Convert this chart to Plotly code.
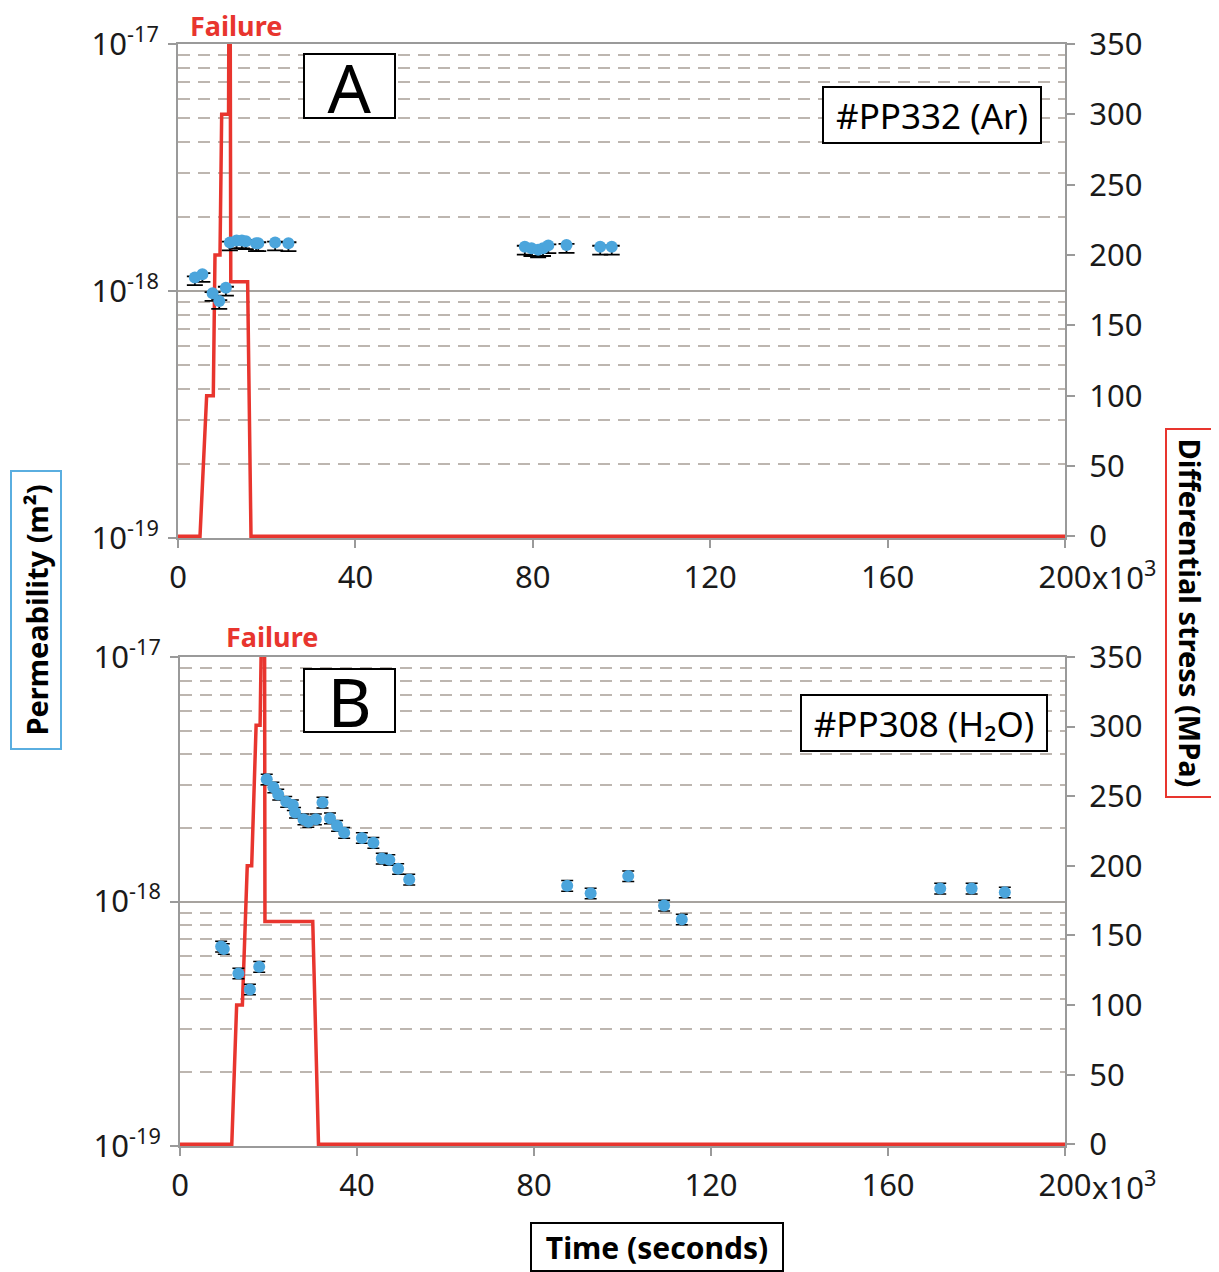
import plotly.graph_objects as go

# ---- data (time in 10^3 s) ----
# panel A, #PP332 (Ar)
time_a_perm = [3.8, 5.5, 7.8, 9.3, 10.8, 11.7, 13.2, 14.4, 15.3, 17.6, 18.1, 21.9, 24.9,
               78.2, 79.7, 81.2, 82.3, 83.5, 87.6, 95.2, 97.8]
perm_a = [1.135e-18, 1.17e-18, 0.98e-18, 0.91e-18, 1.03e-18, 1.57e-18, 1.60e-18, 1.60e-18,
          1.59e-18, 1.56e-18, 1.56e-18, 1.57e-18, 1.56e-18,
          1.51e-18, 1.49e-18, 1.47e-18, 1.49e-18, 1.53e-18, 1.535e-18, 1.51e-18, 1.51e-18]
time_a_stress = [0, 4.96, 6.46, 7.96, 8.34, 9.47, 9.85, 11.4, 11.5, 11.75, 11.9, 15.7, 16.46, 200]
stress_a = [0, 0, 100, 100, 200, 200, 300, 300, 400, 400, 181, 181, 0, 0]

# panel B, #PP308 (H2O)
time_b_perm = [9.3, 9.9, 13.2, 15.8, 17.9, 19.6, 21.1, 22.2, 24.0, 25.5, 26.0, 27.9, 29.0,
               30.7, 32.2, 33.9, 35.5, 37.1, 41.1, 43.7, 45.6, 47.3, 49.3, 51.8,
               87.5, 92.8, 101.3, 109.4, 113.4, 171.8, 178.9, 186.4]
perm_b = [0.655e-18, 0.64e-18, 0.508e-18, 0.437e-18, 0.541e-18, 3.16e-18, 2.93e-18, 2.74e-18,
          2.56e-18, 2.48e-18, 2.31e-18, 2.17e-18, 2.12e-18, 2.17e-18, 2.54e-18, 2.19e-18,
          2.04e-18, 1.91e-18, 1.82e-18, 1.74e-18, 1.50e-18, 1.48e-18, 1.36e-18, 1.23e-18,
          1.16e-18, 1.08e-18, 1.27e-18, 0.963e-18, 0.845e-18, 1.13e-18, 1.13e-18, 1.09e-18]
time_b_stress = [0, 11.7, 12.8, 14.1, 15.2, 16.2, 17.2, 18.1, 18.55, 19.1, 19.2, 30.0, 31.3, 200]
stress_b = [0, 0, 100, 100, 200, 200, 301, 301, 400, 400, 160, 160, 0, 0]

x_ticks = [0, 40, 80, 120, 160, 200]
x_ticktext = ["0", "40", "80", "120", "160", "200"]
perm_ticks = [1e-19, 1e-18, 1e-17]
perm_ticktext = ["10<sup>-19</sup>", "10<sup>-18</sup>", "10<sup>-17</sup>"]
minor_perm = [k * 10.0 ** e for e in (-19, -18) for k in range(2, 10)]

# the page puts the plot 8px in from the top-left corner
OFF = 8
W, H = 1219 - OFF, 1272 - OFF
FONT = "Noto Sans"
RED = "#e8352e"
BLUE = "#4ba5dc"
AXIS = "#9a9a9a"


def px(x):
    return (x - OFF) / W


def py(y):
    return 1 - (y - OFF) / H


fig = go.Figure()

# stress traces on base (right) axes, permeability on overlaid log axes
fig.add_trace(go.Scatter(x=time_a_stress, y=stress_a, mode="lines",
                         line=dict(color=RED, width=3.5), xaxis="x", yaxis="y"))
fig.add_trace(go.Scatter(x=time_a_perm, y=perm_a, mode="markers",
                         marker=dict(color=BLUE, size=12),
                         error_y=dict(type="percent", symmetric=False, value=1, valueminus=7,
                                      color="black", thickness=1.8, width=8),
                         xaxis="x", yaxis="y2"))
fig.add_trace(go.Scatter(x=time_b_stress, y=stress_b, mode="lines",
                         line=dict(color=RED, width=3.5), xaxis="x2", yaxis="y3"))
fig.add_trace(go.Scatter(x=time_b_perm, y=perm_b, mode="markers",
                         marker=dict(color=BLUE, size=12),
                         error_y=dict(type="percent", value=5,
                                      color="black", thickness=1.5, width=6),
                         xaxis="x2", yaxis="y4"))

tick_font = dict(family=FONT, size=31, color="#1a1a1a")

xcommon = dict(range=[0, 200], tickvals=x_ticks, ticktext=x_ticktext, showgrid=False,
               zeroline=False, showline=True, linecolor=AXIS, linewidth=2, mirror=True,
               ticks="outside", ticklen=8, tickcolor=AXIS, tickwidth=2,
               tickfont=tick_font, ticklabelstandoff=3, layer="below traces",
               automargin=False, fixedrange=True)
stress_common = dict(range=[-1.2, 350], dtick=50, tick0=0, side="right", showgrid=False,
                     zeroline=False, showline=True, linecolor=AXIS, linewidth=2,
                     ticks="outside", ticklen=8, tickcolor=AXIS, tickwidth=2,
                     tickfont=tick_font, ticklabelstandoff=8, automargin=False)
perm_common = dict(type="log", range=[-19, -17], side="left", tickvals=perm_ticks,
                   ticktext=perm_ticktext, showgrid=True, gridcolor="#a7a39f", gridwidth=2,
                   zeroline=False, showline=True, linecolor=AXIS, linewidth=2,
                   ticks="outside", ticklen=8, tickcolor=AXIS, tickwidth=2,
                   tickfont=tick_font, ticklabelstandoff=3, automargin=False,
                   minor=dict(tickvals=minor_perm, showgrid=True, gridcolor="#bdb6b0",
                              gridwidth=2, griddash="12px,8px", ticks=""))

fig.update_layout(
    width=W, height=H,
    margin=dict(l=0, r=0, t=0, b=0),
    paper_bgcolor="white", plot_bgcolor="white",
    showlegend=False,
    font=dict(family=FONT, color="#1a1a1a"),
    xaxis=dict(domain=[px(178), px(1065)], anchor="y", **xcommon),
    yaxis=dict(domain=[py(538), py(44)], anchor="x", **stress_common),
    yaxis2=dict(overlaying="y", anchor="x", **perm_common),
    xaxis2=dict(domain=[px(180), px(1065)], anchor="y3", **xcommon),
    yaxis3=dict(domain=[py(1146), py(657)], anchor="x2", **stress_common),
    yaxis4=dict(overlaying="y3", anchor="x2", **perm_common),
)

ann = []
# x10^3 after the last tick label
for y in (576, 1185):
    ann.append(dict(x=px(1090), y=py(y), xref="paper", yref="paper", xanchor="left",
                    yanchor="middle", text="x10<sup>3</sup>", showarrow=False,
                    font=tick_font))
# Failure labels
for cx, cy in ((236, 26), (272, 636)):
    ann.append(dict(x=px(cx), y=py(cy), xref="paper", yref="paper", text="<b>Failure</b>",
                    xanchor="center", yanchor="middle", showarrow=False,
                    font=dict(family=FONT, size=27, color=RED)))


def boxed(text, cx, cy, w, h, size, color="black", angle=0, bold=False):
    t = "<b>%s</b>" % text if bold else text
    return dict(x=px(cx), y=py(cy), xref="paper", yref="paper", text=t, showarrow=False,
                xanchor="center", yanchor="middle", width=w, height=h, textangle=angle,
                bgcolor="white", bordercolor=color, borderwidth=2, borderpad=0,
                font=dict(family=FONT, size=size, color="black"))


ann.append(boxed("A", 349.5, 86, 89, 62, 68))
ann.append(boxed("#PP332 (Ar)", 932, 115, 216, 54, 35))
ann.append(boxed("B", 349.5, 700.5, 89, 61, 68))
ann.append(boxed("#PP308 (H₂O)", 924, 723, 244, 54, 35))
ann.append(boxed("Permeability (m²)", 36, 610, 276, 48, 29, color="#5aaee0", angle=-90,
                 bold=True))
ann.append(boxed("Differential stress (MPa)", 1190, 613, 366, 46, 29, color=RED,
                 angle=90, bold=True))
ann.append(boxed("Time (seconds)", 657, 1247, 250, 46, 30, bold=True))

fig.update_layout(annotations=ann)

fig.write_html("out.html")
